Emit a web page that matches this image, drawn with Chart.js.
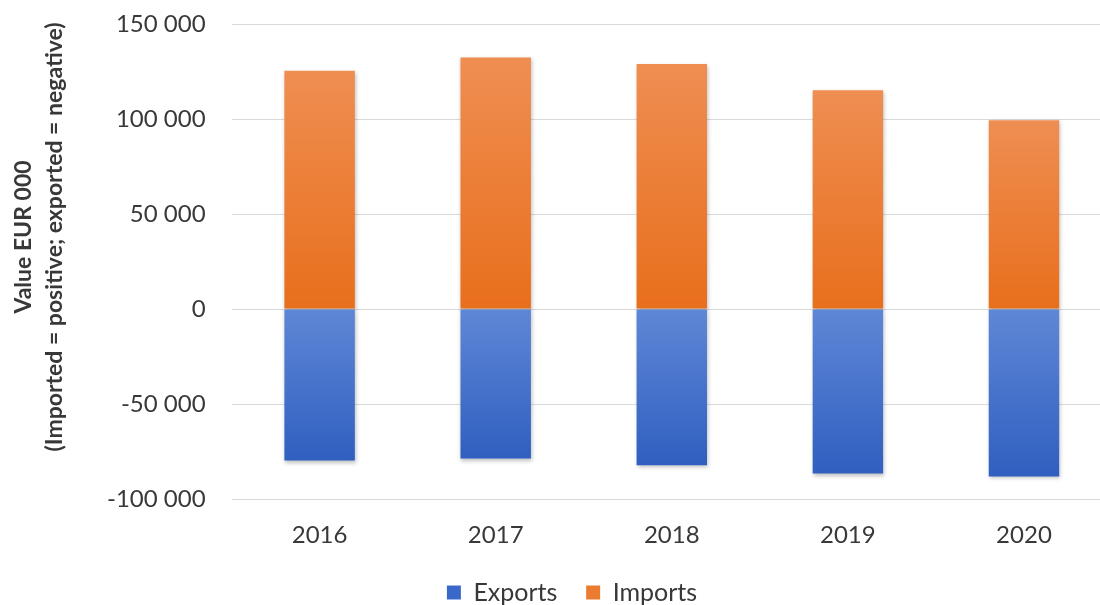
<!DOCTYPE html>
<html>
<head>
<meta charset="utf-8">
<script src="https://cdn.jsdelivr.net/npm/chart.js@4"></script>
<style>
  html, body { margin: 0; padding: 0; background: #fff; overflow: hidden; }
  #wrap { width: 1112px; height: 615px; }
</style>
</head>
<body>
<div id="wrap"><canvas id="tradeChart" width="1112" height="615"></canvas></div>
<script>
const years = ["2016", "2017", "2018", "2019", "2020"];
const exportsData = [-79700, -78600, -82200, -86500, -88000];
const importsData = [125400, 132400, 128900, 115200, 99400];
const yTicks = [-100000, -50000, 0, 50000, 100000, 150000];
const yTitle = ["Value EUR 000", "(Imported = positive; exported = negative)"];

const FONT = "Lato, 'Open Sans', sans-serif";
const TEXT = "#383838";

// each bar gets its own vertical gradient, like the Excel fill
function barGradient(light, dark) {
  return (context) => {
    const chart = context.chart;
    const { ctx, chartArea, scales } = chart;
    if (!chartArea || context.type !== "data") return dark;
    const v = context.raw;
    const top = scales.y.getPixelForValue(Math.max(v, 0));
    const bottom = scales.y.getPixelForValue(Math.min(v, 0));
    if (!isFinite(top) || !isFinite(bottom) || top === bottom) return dark;
    const g = ctx.createLinearGradient(0, top, 0, bottom);
    g.addColorStop(0, light);
    g.addColorStop(1, dark);
    return g;
  };
}

const barShadow = {
  id: "barShadow",
  beforeDatasetsDraw(chart) {
    const ctx = chart.ctx;
    ctx.save();
    ctx.shadowColor = "rgba(0,0,0,0.25)";
    ctx.shadowBlur = 4;
    ctx.shadowOffsetX = 1;
    ctx.shadowOffsetY = 2;
  },
  afterDatasetsDraw(chart) {
    chart.ctx.restore();
  }
};

// y title sits a bit above the plot centre in the original, so draw it by hand
const sideTitle = {
  id: "sideTitle",
  afterDraw(chart) {
    const ctx = chart.ctx;
    ctx.save();
    ctx.font = "bold 23px " + FONT;
    ctx.fillStyle = TEXT;
    ctx.textAlign = "center";
    ctx.textBaseline = "middle";
    ctx.translate(0, 237);
    ctx.rotate(-Math.PI / 2);
    ctx.fillText(yTitle[0], 0, 24);
    ctx.fillText(yTitle[1], 0, 55);
    ctx.restore();
  }
};

function fmt(v) {
  const s = Math.abs(v).toString().replace(/\B(?=(\d{3})+(?!\d))/g, " ");
  return (v < 0 ? "-" : "") + s;
}

new Chart(document.getElementById("tradeChart"), {
  type: "bar",
  data: {
    labels: years,
    datasets: [
      {
        label: "Exports",
        data: exportsData,
        backgroundColor: barGradient("#5f87d6", "#2f5fc0"),
        borderWidth: 0,
        barPercentage: 0.8,
        categoryPercentage: 0.5
      },
      {
        label: "Imports",
        data: importsData,
        backgroundColor: barGradient("#ef8e52", "#e86f1c"),
        borderWidth: 0,
        barPercentage: 0.8,
        categoryPercentage: 0.5
      }
    ]
  },
  options: {
    responsive: false,
    animation: false,
    layout: { padding: { left: 32, top: 24, right: 0, bottom: 0 } },
    plugins: {
      legend: {
        position: "bottom",
        labels: {
          boxWidth: 14,
          boxHeight: 14,
          padding: 16,
          color: TEXT,
          font: { family: FONT, size: 25 },
          generateLabels(chart) {
            const fills = ["#3a68c8", "#ec7b32"];
            return chart.data.datasets.map((ds, i) => ({
              text: i === 0 ? ds.label + "  " : ds.label,
              fillStyle: fills[i],
              strokeStyle: fills[i],
              lineWidth: 0,
              fontColor: TEXT,
              datasetIndex: i,
              hidden: false
            }));
          }
        }
      },
      tooltip: { enabled: false }
    },
    scales: {
      x: {
        stacked: true,
        grid: { display: false },
        border: { display: false },
        ticks: { color: TEXT, font: { family: FONT, size: 24 }, padding: 14 }
      },
      y: {
        stacked: true,
        min: -100000,
        max: 150000,
        afterBuildTicks(axis) {
          axis.ticks = yTicks.map(v => ({ value: v }));
        },
        afterFit(axis) {
          axis.width += 75; // room for the hand-drawn title
        },
        grid: {
          color: "#d9d9d9",
          lineWidth: 1,
          drawTicks: true,
          tickLength: 26,
          tickColor: "rgba(0,0,0,0)"
        },
        border: { display: false },
        ticks: {
          color: TEXT,
          font: { family: FONT, size: 24 },
          padding: 0,
          callback: (v) => fmt(v)
        }
      }
    }
  },
  plugins: [barShadow, sideTitle]
});
</script>
</body>
</html>
